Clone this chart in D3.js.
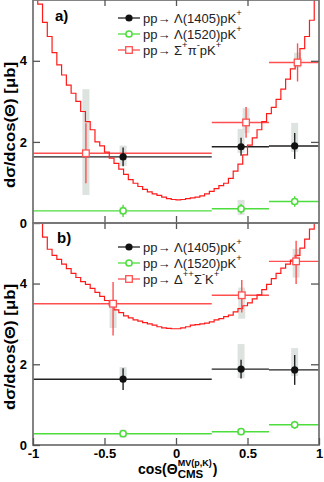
<!DOCTYPE html>
<html>
<head>
<meta charset="utf-8">
<script src="https://cdn.jsdelivr.net/npm/d3@7"></script>
<style>
  body { margin: 0; background: #fff; }
  text { font-family: "Liberation Sans", Arial, Helvetica, sans-serif; }
</style>
</head>
<body>
<div id="chart"></div>
<script>
// ---- data ----
const xTicks = [-1, -0.5, 0, 0.5, 1];
const yTicks = [0, 2, 4];
const binLo = [-1, 0.25, 0.65];
const binHi = [0.25, 0.65, 1];
const lamX = [-0.37, 0.455, 0.83];

// panel a
const a1405Y = [1.63, 1.88, 1.90];
const a1405Err = [0.23, 0.22, 0.32];
const a1405SysLo = [0.22, 0.15, 0.15];
const a1405SysHi = [0.28, 0.44, 0.57];
const a1520Y = [0.30, 0.35, 0.53];
const a1520Err = [0.15, 0.12, 0.13];
const a1520SysLo = [0.10, 0.15, 0.07];
const a1520SysHi = [0.10, 0.22, 0.07];
const aSigX = [-0.63, 0.49, 0.85];
const aSigY = [1.72, 2.48, 3.96];
const aSigErrLo = [0.74, 0.38, 0.47];
const aSigErrHi = [0.74, 0.38, 0.47];
const aSigSysLo = [1.03, 0.26, 0.13];
const aSigSysHi = [1.58, 0.35, 0.24];
const aSimY = [6.2, 5.4, 4.95, 4.6, 4.2, 3.9, 3.65, 3.4, 3.2, 3.0,
  2.75, 2.5, 2.3, 2.0, 1.9, 1.75, 1.6, 1.47, 1.33, 1.2,
  1.07, 0.98, 0.9, 0.83, 0.77, 0.72, 0.68, 0.64, 0.6, 0.58,
  0.57, 0.58, 0.6, 0.62, 0.64, 0.67, 0.72, 0.78, 0.85, 0.92,
  0.98, 1.1, 1.28, 1.45, 1.68, 1.92, 2.1, 2.3, 2.5, 2.7,
  2.85, 3.05, 3.3, 3.55, 3.8, 4.0, 4.3, 4.6, 5.0, 5.7];

// panel b
const b1405Y = [1.63, 1.88, 1.86];
const b1405Err = [0.27, 0.23, 0.37];
const b1405SysLo = [0.02, 0.22, 0.15];
const b1405SysHi = [0.30, 0.62, 0.54];
const b1520Y = [0.28, 0.33, 0.50];
const b1520Err = [0.06, 0.05, 0.10];
const b1520SysLo = [0.10, 0.08, 0.08];
const b1520SysHi = [0.10, 0.08, 0.08];
const bDelX = [-0.44, 0.46, 0.84];
const bDelY = [3.50, 3.71, 4.55];
const bDelErrLo = [0.79, 0.43, 0.56];
const bDelErrHi = [0.54, 0.38, 0.51];
const bDelSysLo = [0.60, 0.58, 0.40];
const bDelSysHi = [0.07, 0.19, 0.31];
const bSimY = [5.9, 5.5, 5.15, 4.85, 4.7, 4.6, 4.48, 4.37, 4.25, 4.15,
  4.05, 3.98, 3.88, 3.78, 3.68, 3.58, 3.45, 3.35, 3.28, 3.2,
  3.15, 3.1, 3.07, 3.03, 3.0, 2.97, 2.93, 2.9, 2.89, 2.88,
  2.88, 2.9, 2.93, 2.97, 2.98, 3.0, 3.02, 3.05, 3.1, 3.13,
  3.18, 3.22, 3.3, 3.38, 3.45, 3.52, 3.62, 3.72, 3.85, 3.98,
  4.12, 4.25, 4.38, 4.48, 4.58, 4.7, 4.88, 5.1, 5.35, 5.7];

const legendA = [
  [{t: "pp\u2192 \u039B(1405)pK"}, {t: "+", sup: true}],
  [{t: "pp\u2192 \u039B(1520)pK"}, {t: "+", sup: true}],
  [{t: "pp\u2192 \u03A3"}, {t: "+", sup: true}, {t: "\u03C0"}, {t: "-", sup: true}, {t: "pK"}, {t: "+", sup: true}]
];
const legendB = [
  [{t: "pp\u2192 \u039B(1405)pK"}, {t: "+", sup: true}],
  [{t: "pp\u2192 \u039B(1520)pK"}, {t: "+", sup: true}],
  [{t: "pp\u2192 \u0394"}, {t: "++", sup: true}, {t: "\u03A3"}, {t: "-", sup: true}, {t: "K"}, {t: "+", sup: true}]
];

// ---- drawing ----
const [width, height] = [324, 482];
const plot = { l: 33, r: 319 };
const RED = "#ff1a1a", RED_PT = "#ff5050", BLK = "#111", GRN = "#4ddd3c", SYS = "#dde3df", FRAME = "#777";

const svg = d3.select("#chart").append("svg").attr("width", width).attr("height", height);
const x = d3.scaleLinear().domain([-1, 1]).range([plot.l, plot.r]);

const marker = (g, kind, cx, cy) => {
  if (kind === "dot") {
    g.append("circle").attr("cx", cx).attr("cy", cy).attr("r", 3.6).attr("fill", BLK);
  } else if (kind === "ring") {
    g.append("circle").attr("cx", cx).attr("cy", cy).attr("r", 3.1).attr("fill", "#fff")
      .attr("stroke", GRN).attr("stroke-width", 1.5);
  } else {
    g.append("rect").attr("x", cx - 3.3).attr("y", cy - 3.3).attr("width", 6.6).attr("height", 6.6)
      .attr("fill", "#fff").attr("stroke", RED_PT).attr("stroke-width", 1.3);
  }
};

const drawPanel = (p) => {
  const y = d3.scaleLinear().domain([0, 5.5]).range([p.bottom, p.top]);
  const g = svg.append("g");

  svg.append("clipPath").attr("id", "clip" + p.id)
    .append("rect").attr("x", plot.l).attr("y", p.top).attr("width", plot.r - plot.l).attr("height", p.bottom - p.top);
  const body = g.append("g").attr("clip-path", `url(#clip${p.id})`);

  // systematic boxes
  p.series.forEach(s => {
    body.append("g").selectAll("rect").data(s.y).enter().append("rect")
      .attr("x", (d, i) => x(s.x[i]) - 3.5)
      .attr("width", 7)
      .attr("y", (d, i) => y(d + s.sysHi[i]))
      .attr("height", (d, i) => y(d - s.sysLo[i]) - y(d + s.sysHi[i]))
      .attr("fill", SYS);
  });

  // bin lines
  p.series.forEach(s => {
    body.append("g").selectAll("line").data(s.y).enter().append("line")
      .attr("x1", (d, i) => x(binLo[i])).attr("x2", (d, i) => x(binHi[i]))
      .attr("y1", d => y(d)).attr("y2", d => y(d))
      .attr("stroke", s.line).attr("stroke-width", 1.4);
  });

  // simulation histogram
  const edges = d3.range(p.sim.length).map(i => -1 + 2 * i / p.sim.length);
  const pts = edges.map((e, i) => [e, p.sim[i]]).concat([[1, p.sim[p.sim.length - 1]]]);
  body.append("path")
    .attr("d", d3.line().x(d => x(d[0])).y(d => y(d[1])).curve(d3.curveStepAfter)(pts))
    .attr("fill", "none").attr("stroke", RED).attr("stroke-width", 1.2);

  // error bars + markers
  p.series.forEach(s => {
    const eg = body.append("g");
    eg.selectAll("line").data(s.y).enter().append("line")
      .attr("x1", (d, i) => x(s.x[i])).attr("x2", (d, i) => x(s.x[i]))
      .attr("y1", (d, i) => y(d + s.errHi[i])).attr("y2", (d, i) => y(d - s.errLo[i]))
      .attr("stroke", s.line).attr("stroke-width", 1.4);
    s.y.forEach((d, i) => marker(eg, s.kind, x(s.x[i]), y(d)));
  });

  // frame
  g.append("rect").attr("x", plot.l).attr("y", p.top).attr("width", plot.r - plot.l).attr("height", p.bottom - p.top)
    .attr("fill", "none").attr("stroke", FRAME).attr("stroke-width", 1.8);

  // axes
  const yAxis = g.append("g").attr("transform", `translate(${plot.l},0)`)
    .call(d3.axisLeft(y).tickValues(yTicks).tickSize(-7).tickPadding(6).tickFormat(d => String(d)));
  const yAxisR = g.append("g").attr("transform", `translate(${plot.r},0)`)
    .call(d3.axisRight(y).tickValues(yTicks.slice(1)).tickSize(-8).tickFormat(""));
  const xTop = g.append("g").attr("transform", `translate(0,${p.top})`)
    .call(d3.axisTop(x).tickValues(xTicks.slice(1, -1)).tickSize(-6).tickFormat(""));
  const xBot = g.append("g").attr("transform", `translate(0,${p.bottom})`)
    .call(d3.axisBottom(x).tickValues(p.labels ? xTicks : xTicks.slice(1, -1)).tickSize(-7).tickPadding(4)
      .tickFormat(p.labels ? (d => String(d)) : ""));
  [yAxis, yAxisR, xTop, xBot].forEach(a => {
    a.select(".domain").remove();
    a.selectAll(".tick line").attr("stroke", "#555").attr("stroke-width", 1.3);
    a.selectAll("text").attr("font-size", 13).attr("font-weight", "bold").attr("fill", "#000")
      .attr("font-family", "Liberation Sans, Arial, sans-serif");
  });

  // y title
  g.append("text")
    .attr("transform", `translate(15,${p.titleY}) rotate(-90)`)
    .attr("text-anchor", "middle").attr("font-size", 14).attr("font-weight", "bold")
    .attr("textLength", 126).attr("lengthAdjust", "spacingAndGlyphs")
    .text("d\u03C3/dcos(\u0398) [\u03BCb]");

  // panel tag
  g.append("text").attr("x", p.tagX).attr("y", p.tagY).attr("font-size", 15).attr("font-weight", "bold").text(p.tag);

  // legend
  p.legend.forEach((parts, i) => {
    const ly = p.legendY + i * 16;
    const s = p.series[i];
    g.append("line").attr("x1", 118).attr("x2", 140).attr("y1", ly).attr("y2", ly)
      .attr("stroke", s.line).attr("stroke-width", 1.3);
    marker(g, s.kind, 129, ly);
    const t = g.append("text").attr("x", 143).attr("y", ly + 4.5).attr("font-size", 13).attr("fill", "#222");
    let prevSup = false;
    parts.forEach(part => {
      const ts = t.append("tspan").text(part.t);
      if (part.sup) { ts.attr("font-size", 9.5); if (!prevSup) ts.attr("dy", -6.5); }
      else if (prevSup) ts.attr("dy", 6.5);
      prevSup = !!part.sup;
    });
  });
};

drawPanel({
  id: "a", top: 0, bottom: 223, titleY: 125, tag: "a)", tagX: 55, tagY: 21, legendY: 18, legend: legendA,
  sim: aSimY, labels: false,
  series: [
    { kind: "dot", line: "#222", x: lamX, y: a1405Y, errLo: a1405Err, errHi: a1405Err, sysLo: a1405SysLo, sysHi: a1405SysHi },
    { kind: "ring", line: GRN, x: lamX, y: a1520Y, errLo: a1520Err, errHi: a1520Err, sysLo: a1520SysLo, sysHi: a1520SysHi },
    { kind: "sq", line: RED_PT, x: aSigX, y: aSigY, errLo: aSigErrLo, errHi: aSigErrHi, sysLo: aSigSysLo, sysHi: aSigSysHi }
  ]
});

drawPanel({
  id: "b", top: 223, bottom: 445, titleY: 347, tag: "b)", tagX: 57, tagY: 243, legendY: 247, legend: legendB,
  sim: bSimY, labels: true,
  series: [
    { kind: "dot", line: "#222", x: lamX, y: b1405Y, errLo: b1405Err, errHi: b1405Err, sysLo: b1405SysLo, sysHi: b1405SysHi },
    { kind: "ring", line: GRN, x: lamX, y: b1520Y, errLo: b1520Err, errHi: b1520Err, sysLo: b1520SysLo, sysHi: b1520SysHi },
    { kind: "sq", line: RED_PT, x: bDelX, y: bDelY, errLo: bDelErrLo, errHi: bDelErrHi, sysLo: bDelSysLo, sysHi: bDelSysHi }
  ]
});

// x title: cos(Theta_CMS^MV(p,K))
const xt = svg.append("g").attr("font-weight", "bold");
const main = xt.append("text").attr("x", 138).attr("y", 474).attr("font-size", 14).text("cos(\u0398");
const mw = main.node().getComputedTextLength();
const sub = xt.append("text").attr("x", 138 + mw).attr("y", 478).attr("font-size", 11.5).text("CMS");
const sup = xt.append("text").attr("x", 138 + mw).attr("y", 466).attr("font-size", 9).text("MV(p,K)");
const ew = Math.max(sub.node().getComputedTextLength(), sup.node().getComputedTextLength());
xt.append("text").attr("x", 138 + mw + ew + 1).attr("y", 474).attr("font-size", 14).text(")");
</script>
</body>
</html>
